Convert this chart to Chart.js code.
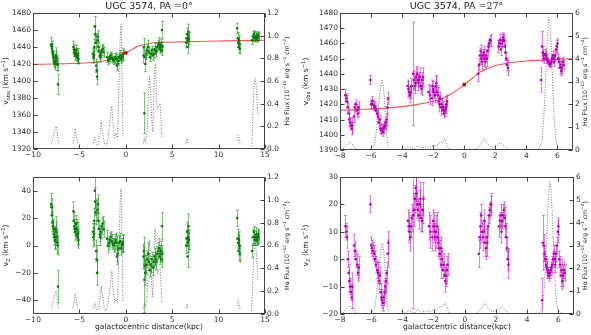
<!DOCTYPE html>
<html>
<head>
<meta charset="utf-8">
<script src="https://cdn.jsdelivr.net/npm/chart.js@4.4.1/dist/chart.umd.min.js"></script>
<style>
  body { margin: 0; background: #fff; width: 591px; height: 335px; position: relative; overflow: hidden; }
  canvas { position: absolute; }
</style>
</head>
<body>
<canvas id="c1" width="295" height="165" style="left:0;top:0"></canvas>
<canvas id="c2" width="296" height="165" style="left:295px;top:0"></canvas>
<canvas id="c3" width="295" height="170" style="left:0;top:165px"></canvas>
<canvas id="c4" width="296" height="170" style="left:295px;top:165px"></canvas>
<script>
// tick labels
const xTicks0 = [-10, -5, 0, 5, 10, 15];
const xTicks27 = [-8, -6, -4, -2, 0, 2, 4, 6];
const vobsTicks0 = [1320, 1340, 1360, 1380, 1400, 1420, 1440, 1460, 1480];
const vobsTicks27 = [1390, 1400, 1410, 1420, 1430, 1440, 1450, 1460, 1470, 1480];
const vzTicks0 = [-40, -20, 0, 20, 40];
const vzTicks27 = [-20, -10, 0, 10, 20, 30];
const fluxTicks0 = [0, 0.2, 0.4, 0.6, 0.8, 1.0, 1.2];
const fluxTicks27 = [0, 1, 2, 3, 4, 5, 6];

// PA = 0 : positions (kpc), observed velocity, vertical velocity, errors
const r0 = [
  -8.05, -8.0, -7.95, -7.9, -7.85, -7.8, -7.75, -7.7, -7.65, -7.6, -7.55, -7.5, -7.45, -7.4, -7.35, -7.3,
  -5.65, -5.6, -5.55, -5.5, -5.45, -5.4, -5.35, -5.3, -5.25, -5.2, -5.15, -5.1,
  -3.55, -3.5, -3.45, -3.4, -3.35, -3.3, -3.25, -3.2, -3.15, -3.1, -3.05, -3.0, -2.95, -2.9, -2.8, -2.75, -2.7, -2.6, -2.5, -2.4,
  -2.0, -1.9, -1.8, -1.7, -1.6, -1.5, -1.4, -1.3, -1.2, -1.1, -1.0, -0.95, -0.9, -0.8, -0.7, -0.6, -0.5, -0.4, -0.35, -0.3,
  1.9, 1.95, 2.0, 2.05, 2.1, 2.2, 2.3, 2.4, 2.5, 2.6, 2.7, 2.8, 2.9, 3.0, 3.1, 3.2, 3.3, 3.4, 3.5, 3.6, 3.65, 3.7, 3.8, 3.85, 3.9, 3.95,
  6.5, 6.55, 6.6, 6.65, 6.7, 6.72, 6.75, 6.8,
  12.0, 12.05, 12.1, 12.15, 12.2, 12.25, 12.3,
  13.6, 13.7, 13.8, 13.85, 13.9, 14.0, 14.05, 14.1, 14.15, 14.2, 14.25, 14.3
];
const vobs0 = [
  1443, 1441, 1438, 1434, 1431, 1428, 1424, 1422, 1420, 1424, 1430, 1428, 1424, 1420, 1419, 1396,
  1440, 1437, 1434, 1432, 1430, 1433, 1436, 1431, 1428, 1427, 1430, 1426,
  1432, 1428, 1430, 1440, 1464, 1455, 1445, 1418, 1412, 1405, 1448, 1452, 1440, 1435, 1430, 1428, 1432, 1436, 1438, 1434,
  1428, 1424, 1426, 1428, 1430, 1427, 1425, 1424, 1426, 1428, 1426, 1418, 1420, 1424, 1428, 1430, 1426, 1428, 1430, 1432,
  1430, 1440, 1362, 1428, 1420, 1432, 1436, 1440, 1434, 1428, 1432, 1436, 1430, 1432, 1438, 1436, 1434, 1440, 1442, 1444, 1438, 1440, 1442, 1436, 1460, 1440,
  1445, 1450, 1455, 1440, 1448, 1452, 1458, 1450,
  1462, 1450, 1445, 1440, 1448, 1444, 1438,
  1448, 1452, 1455, 1452, 1450, 1452, 1453, 1451, 1450, 1452, 1454, 1452
];
const vz0 = [
  30, 28, 22, 17, 14, 12, 8, 6, 4, 6, 12, 10, 6, 2, 0, -30,
  25, 18, 14, 12, 10, 12, 16, 12, 8, 6, 9, 4,
  10, 6, 8, 18, 40, 32, 24, -4, -10, -20, 26, 30, 18, 12, 8, 6, 10, 14, 16, 12,
  5, 0, 2, 4, 6, 3, 1, 0, 2, 4, 2, -8, -6, -2, 2, 3, -2, 0, 1, 2,
  -8, -4, -25, -15, -20, -14, -10, -6, -12, -18, -14, -10, -16, -12, -8, -10, -12, -6, -4, -2, -8, -6, -4, -10, 14, -6,
  0, 5, 10, -8, 2, 6, 14, 4,
  20, 5, 2, -4, 4, 0, -6,
  -4, 6, 10, 6, 4, 6, 8, 5, 4, 6, 8, 6
];
const err0 = [
  8, 6, 6, 7, 5, 6, 5, 6, 7, 8, 9, 7, 6, 8, 7, 12,
  7, 6, 5, 5, 6, 5, 6, 7, 5, 6, 8, 6,
  6, 7, 8, 9, 12, 10, 9, 8, 10, 9, 8, 7, 6, 6, 5, 6, 5, 6, 5, 6,
  6, 5, 5, 5, 4, 5, 4, 5, 6, 5, 5, 6, 6, 5, 5, 6, 5, 5, 6, 6,
  9, 10, 24, 8, 9, 7, 6, 8, 6, 5, 6, 5, 6, 5, 6, 5, 6, 5, 6, 7, 6, 6, 7, 6, 10, 6,
  6, 6, 7, 8, 7, 6, 9, 7,
  6, 7, 6, 7, 6, 7, 6,
  5, 6, 4, 5, 4, 4, 5, 4, 4, 5, 4, 4
];
const fluxR0 = [
  -8.0, -7.8, -7.6, -7.5, -7.4, -7.3, -7.2, null,
  -5.7, -5.55, -5.45, -5.3, -5.15, null,
  -3.5, -3.35, -3.2, -3.0, -2.8, -2.65, -2.5, -2.3, -2.1, -1.9, -1.7, -1.5, -1.35, -1.2, -1.05, -0.9, -0.8, -0.7, -0.6, -0.5, -0.4, -0.3, null,
  1.9, 2.0, 2.1, 2.3, 2.45, 2.55, 2.7, 2.8, 2.9, 3.0, 3.1, 3.2, 3.3, 3.4, 3.55, 3.7, 3.8, 3.9, null,
  6.5, 6.6, 6.7, null,
  12.0, 12.1, 12.2, 12.3, null,
  13.55, 13.65, 13.75, 13.85, 13.95, 14.05, 14.1, 14.2, 14.25
];
const flux0 = [
  0.05, 0.12, 0.18, 0.2, 0.15, 0.08, 0.05, null,
  0.05, 0.12, 0.18, 0.1, 0.05, null,
  0.05, 0.1, 0.05, 0.03, 0.12, 0.25, 0.15, 0.04, 0.03, 0.1, 0.25, 0.38, 0.2, 0.1, 0.14, 0.1, 0.35, 0.7, 1.0, 1.1, 0.6, 0.1, null,
  0.05, 0.1, 0.06, 0.15, 0.5, 0.65, 0.45, 0.25, 0.15, 0.4, 0.72, 0.75, 0.5, 0.35, 0.38, 0.4, 0.25, 0.1, null,
  0.05, 0.09, 0.05, null,
  0.07, 0.12, 0.1, 0.05, null,
  0.0, 0.2, 0.45, 0.6, 0.62, 0.55, 0.5, 0.35, 0.3
];
const modelR0 = [-10, -8, -6, -4, -3, -2, -1, -0.5, 0, 0.5, 1, 1.5, 2, 3, 4, 6, 8, 10, 12, 15];
const model0 = [1419.5, 1420, 1420.5, 1421.5, 1422.5, 1424.5, 1427.5, 1430, 1433, 1436, 1439, 1441.5, 1443, 1445, 1445.5, 1446, 1446.5, 1447, 1447.5, 1448];

// PA = 27
const r27 = [
  -7.65, -7.6, -7.55, -7.5, -7.45, -7.4, -7.35, -7.3, -7.25, -7.2, -7.1, -7.05, -7.0, -6.9, -6.85, -6.8,
  -6.05, -6.0, -5.95, -5.9, -5.8, -5.75, -5.7, -5.6, -5.55, -5.5, -5.45, -5.4, -5.35, -5.3, -5.25, -5.2, -5.15, -5.1, -5.05, -5.0, -4.95, -4.9,
  -3.65, -3.6, -3.55, -3.5, -3.45, -3.4, -3.3, -3.25, -3.2, -3.15, -3.1, -3.05, -3.0, -2.95, -2.9, -2.85, -2.8, -2.75, -2.7, -2.65,
  -2.3, -2.2, -2.1, -2.05, -2.0, -1.95, -1.9, -1.85, -1.8, -1.75, -1.7, -1.65, -1.6, -1.55, -1.5, -1.45, -1.4, -1.35, -1.3, -1.25, -1.2, -1.15, -1.1,
  0.9, 0.95, 1.0, 1.05, 1.1, 1.15, 1.2, 1.25, 1.3, 1.35, 1.4, 1.45, 1.5, 1.55, 1.6, 1.65, 1.7,
  2.2, 2.25, 2.3, 2.35, 2.4, 2.45, 2.5, 2.55, 2.6, 2.65, 2.7, 2.75, 2.8,
  4.95, 5.0, 5.05, 5.1, 5.15, 5.2, 5.25, 5.3, 5.35, 5.4, 5.45, 5.5, 5.55, 5.6, 5.65, 5.7, 5.75, 5.8, 5.85, 5.9, 5.95, 6.0, 6.05, 6.1, 6.15, 6.2, 6.25, 6.3, 6.35, 6.4
];
const vobs27 = [
  1426, 1424, 1422, 1418, 1414, 1410, 1408, 1406, 1404, 1406, 1412, 1418, 1420, 1416, 1414, 1418,
  1436, 1420, 1422, 1420, 1419, 1418, 1416, 1414, 1412, 1408, 1410, 1404, 1403, 1404, 1402, 1404, 1405, 1406, 1408, 1410, 1418, 1424,
  1432, 1430, 1428, 1426, 1428, 1432, 1440, 1436, 1432, 1434, 1438, 1440, 1436, 1434, 1436, 1438, 1432, 1430, 1436, 1438,
  1428, 1426, 1424, 1432, 1430, 1428, 1426, 1432, 1434, 1428, 1426, 1422, 1420, 1424, 1418, 1420, 1416, 1418, 1414, 1416, 1418, 1420, 1422,
  1440, 1446, 1452, 1455, 1450, 1448, 1452, 1454, 1450, 1448, 1452, 1450, 1455, 1458, 1460, 1462, 1462,
  1458, 1460, 1462, 1456, 1460, 1462, 1464, 1462, 1458, 1454, 1450, 1446, 1444,
  1436, 1458, 1454, 1452, 1450, 1453, 1452, 1450, 1449, 1448, 1447, 1446, 1447, 1448, 1450, 1452, 1450, 1448, 1452, 1456, 1458, 1460, 1450, 1448, 1444, 1446, 1442, 1444, 1448, 1446
];
const vz27 = [
  12, 10, 8, 0, -5, -8, -10, -12, -14, -10, 5, 3, 0, -2, -5, -3,
  20, 5, 4, 3, 2, 0, -2, -4, -5, -8, -6, -12, -14, -15, -16, -14, -12, -10, -8, -5, 2, 6,
  14, 12, 10, 8, 12, 15, 16, 18, 22, 26, 24, 20, 18, 16, 20, 22, 15, 14, 18, 22,
  12, 10, 8, 14, 12, 10, 8, 10, 12, 8, 6, 4, 2, 4, -2, 0, -4, -2, -6, -8, -6, -4, -2,
  2, 8, 12, 16, 10, 8, 10, 14, 6, 4, 8, 6, 12, 16, 18, 20, 20,
  12, 14, 16, 10, 14, 16, 18, 15, 12, 8, 4, 0, -2,
  -15, 6, 5, 2, 0, -2, -3, -4, -5, -6, -5, -4, -3, -2, 0, 2, 0, -2, 2, 5, 10, 12, 0, -2, -6, -4, -8, -6, -4, -5
];
const err27 = [
  4, 3, 4, 3, 3, 4, 3, 3, 4, 5, 4, 3, 3, 4, 3, 4,
  3, 3, 3, 3, 3, 3, 3, 3, 4, 3, 3, 3, 3, 3, 3, 3, 4, 3, 4, 4, 5, 4,
  4, 5, 4, 5, 4, 5, 34, 6, 5, 5, 6, 5, 4, 5, 5, 6, 5, 4, 5, 6,
  5, 6, 5, 4, 5, 4, 5, 6, 5, 4, 5, 4, 5, 4, 5, 4, 3, 4, 3, 4, 4, 5, 4,
  5, 4, 5, 4, 4, 5, 4, 4, 5, 4, 4, 5, 4, 3, 3, 3, 4,
  4, 3, 4, 4, 3, 4, 3, 4, 4, 5, 4, 4, 5,
  8, 10, 4, 3, 3, 3, 3, 3, 2, 2, 2, 2, 2, 3, 3, 3, 3, 3, 3, 3, 4, 3, 3, 3, 4, 4, 3, 4, 3, 3
];
const fluxR27 = [
  -7.8, -7.6, -7.4, -7.2, -7.0, -6.8, null,
  -6.2, -6.0, -5.8, -5.7, -5.6, -5.5, -5.4, -5.3, -5.2, -5.1, -5.0, -4.9, null,
  -3.8, -3.6, -3.4, -3.2, -3.0, -2.8, -2.6, -2.4, -2.2, -2.0, -1.8, -1.6, -1.4, -1.25, -1.1, -1.0, null,
  0.6, 0.8, 1.0, 1.2, 1.3, 1.45, 1.6, 1.8, 2.0, 2.2, 2.35, 2.5, 2.7, 2.9, null,
  4.6, 4.8, 5.0, 5.1, 5.2, 5.3, 5.4, 5.45, 5.5, 5.6, 5.7, 5.8, 5.9, 6.0, 6.2, 6.4
];
const flux27 = [
  0.05, 0.2, 0.35, 0.25, 0.05, 0.0, null,
  0.0, 0.05, 0.2, 0.6, 1.2, 2.0, 2.7, 3.1, 2.8, 1.8, 0.6, 0.1, null,
  0.05, 0.15, 0.1, 0.05, 0.2, 0.1, 0.1, 0.15, 0.1, 0.2, 0.2, 0.3, 0.35, 0.5, 0.2, 0.05, null,
  0.0, 0.05, 0.2, 0.4, 0.5, 0.3, 0.2, 0.1, 0.15, 0.25, 0.3, 0.2, 0.1, 0.0, null,
  0.0, 0.05, 0.4, 1.2, 2.5, 4.2, 5.5, 5.8, 5.6, 4.5, 2.8, 1.2, 0.4, 0.15, 0.05, 0.0
];
const modelR27 = [-8, -7, -6, -5, -4, -3, -2, -1.5, -1, -0.5, 0, 0.5, 1, 1.5, 2, 2.5, 3, 4, 5, 6, 7];
const model27 = [1416, 1416.5, 1417, 1417.5, 1418.5, 1420, 1422, 1423.5, 1426, 1429, 1433, 1437, 1441, 1443.5, 1445.5, 1446.5, 1447.5, 1448.5, 1449, 1449.5, 1450];

// kinematic centre
const centerR = [0];
const centerV0 = [1433];
const centerV27 = [1433];

const FONT = 'DejaVu Sans';
const TICK_SIZE = 7.5;
const GREEN = '#0a780a';
const GREEN_ERR = 'rgba(0,140,0,0.5)';
const MAGENTA = '#b000b0';
const MAGENTA_ERR = 'rgba(205,0,205,0.5)';

function pts(xs, ys) {
  return xs.map((x, i) => ({ x: x, y: ys[i] }));
}
function minus(v) {
  return v < 0 ? '\u2212' + Math.abs(v) : String(v);
}

// draws text made of normal / sub / sup / serif pieces, centred on (x, y)
function drawRich(ctx, parts, x, y, rotate, size) {
  const fontFor = (m) => {
    if (m === 'sub' || m === 'sup') return (size * 0.7) + 'px "' + FONT + '"';
    if (m === 'serif') return size + 'px "DejaVu Serif"';
    return size + 'px "' + FONT + '"';
  };
  let w = 0;
  parts.forEach(p => { ctx.font = fontFor(p[1]); w += ctx.measureText(p[0]).width; });
  ctx.save();
  ctx.translate(x, y);
  if (rotate) ctx.rotate(-Math.PI / 2);
  ctx.textBaseline = 'middle';
  ctx.textAlign = 'left';
  let cx = -w / 2;
  parts.forEach(p => {
    ctx.font = fontFor(p[1]);
    let dy = 0;
    if (p[1] === 'sub') dy = size * 0.3;
    if (p[1] === 'sup') dy = -size * 0.35;
    ctx.fillText(p[0], cx, dy);
    cx += ctx.measureText(p[0]).width;
  });
  ctx.restore();
}

const errorBars = {
  id: 'errorBars',
  beforeDatasetDraw(chart, args) {
    const ds = chart.data.datasets[args.index];
    if (!ds.errors) return;
    const ys = args.meta.yScale;
    const a = chart.chartArea;
    const ctx = chart.ctx;
    ctx.save();
    ctx.beginPath();
    ctx.rect(a.left, a.top, a.right - a.left, a.bottom - a.top);
    ctx.clip();
    ctx.strokeStyle = ds.errorColor;
    ctx.lineWidth = 1;
    ctx.beginPath();
    args.meta.data.forEach((p, i) => {
      const v = ds.data[i].y, e = ds.errors[i];
      const y1 = ys.getPixelForValue(v - e), y2 = ys.getPixelForValue(v + e);
      const x = Math.round(p.x) + 0.5;
      ctx.moveTo(x, y1); ctx.lineTo(x, y2);
      ctx.moveTo(x - 1.5, y1); ctx.lineTo(x + 1.5, y1);
      ctx.moveTo(x - 1.5, y2); ctx.lineTo(x + 1.5, y2);
    });
    ctx.stroke();
    ctx.restore();
  }
};

function decor(o) {
  return {
    id: 'decor',
    afterDraw(chart) {
      const ctx = chart.ctx, a = chart.chartArea;
      const L = Math.round(a.left) + 0.5, R = Math.round(a.right) - 0.5;
      const T = Math.round(a.top) + 0.5, B = Math.round(a.bottom) - 0.5;
      ctx.save();
      ctx.strokeStyle = '#444';
      ctx.lineWidth = 1;
      ctx.strokeRect(L, T, R - L, B - T);
      ctx.beginPath();
      chart.scales.x.ticks.forEach(t => {
        const x = Math.round(chart.scales.x.getPixelForValue(t.value)) + 0.5;
        ctx.moveTo(x, B); ctx.lineTo(x, B - 4);
        ctx.moveTo(x, T); ctx.lineTo(x, T + 4);
      });
      chart.scales.y.ticks.forEach(t => {
        const y = Math.round(chart.scales.y.getPixelForValue(t.value)) + 0.5;
        ctx.moveTo(L, y); ctx.lineTo(L + 4, y);
      });
      chart.scales.y2.ticks.forEach(t => {
        const y = Math.round(chart.scales.y2.getPixelForValue(t.value)) + 0.5;
        ctx.moveTo(R, y); ctx.lineTo(R - 4, y);
      });
      ctx.stroke();
      ctx.fillStyle = '#222';
      if (o.title) drawRich(ctx, o.title, (a.left + a.right) / 2, o.titleY, false, 9.5);
      drawRich(ctx, o.yTitle, o.yTitleX, (a.top + a.bottom) / 2, true, 7.5);
      drawRich(ctx, o.fluxTitle, o.fluxTitleX, (a.top + a.bottom) / 2, true, 6.2);
      if (o.xTitle) drawRich(ctx, o.xTitle, (a.left + a.right) / 2, o.xTitleY, false, 7.6);
      ctx.restore();
    }
  };
}

function tickStyle(cb) {
  return { padding: 2, color: '#333', font: { family: FONT, size: TICK_SIZE }, maxRotation: 0, autoSkip: false, callback: cb };
}

function makePanel(o) {
  const datasets = [
    { data: pts(o.r, o.v), errors: o.err, errorColor: o.errColor, pointRadius: 1.3,
      pointBackgroundColor: o.color, pointBorderWidth: 0, order: 1 },
    { data: pts(o.fluxR, o.flux), yAxisID: 'y2', showLine: true, borderColor: '#666',
      borderWidth: 0.9, borderDash: [1, 1.6], pointRadius: 0, order: 3 }
  ];
  if (o.modelR) {
    datasets.push({ data: pts(o.modelR, o.model), showLine: true, borderColor: 'rgba(255,40,40,0.8)',
      borderWidth: 1.1, pointRadius: 0, cubicInterpolationMode: 'monotone', order: 2 });
    datasets.push({ data: pts(centerR, o.center), pointRadius: 2.4, pointStyle: 'rect',
      pointBackgroundColor: '#d00000', pointBorderWidth: 0, order: 0 });
  }
  new Chart(document.getElementById(o.id), {
    type: 'scatter',
    data: { datasets: datasets },
    options: {
      responsive: false,
      animation: false,
      events: [],
      layout: { padding: { top: o.top, left: 0, right: 0, bottom: 0 } },
      plugins: { legend: { display: false }, tooltip: { enabled: false } },
      scales: {
        x: {
          type: 'linear', min: o.xMin, max: o.xMax,
          afterBuildTicks: s => { s.ticks = o.xTicks.map(v => ({ value: v })); },
          afterFit: s => { s.height = o.bottomH; },
          grid: { display: false, drawTicks: false }, border: { display: false },
          ticks: tickStyle(v => minus(v))
        },
        y: {
          type: 'linear', position: 'left', min: o.yMin, max: o.yMax,
          afterBuildTicks: s => { s.ticks = o.yTicks.map(v => ({ value: v })); },
          afterFit: s => { s.width = o.leftW; },
          grid: { display: false, drawTicks: false }, border: { display: false },
          ticks: tickStyle(v => minus(v))
        },
        y2: {
          type: 'linear', position: 'right', min: 0, max: o.fluxMax,
          afterBuildTicks: s => { s.ticks = o.fluxTicks.map(v => ({ value: v })); },
          afterFit: s => { s.width = o.rightW; },
          grid: { display: false, drawTicks: false }, border: { display: false },
          ticks: tickStyle(o.fluxFmt)
        }
      }
    },
    plugins: [errorBars, decor(o)]
  });
}

const vobsTitle = [['v', ''], ['obs', 'sub'], [' (km s', ''], ['\u22121', 'sup'], [')', '']];
const vzTitle = [['v', ''], ['Z', 'sub'], [' (km s', ''], ['\u22121', 'sup'], [')', '']];
const fluxTitle = [['H\u03b1 Flux (10', ''], ['\u221215', 'sup'], [' erg s', ''], ['\u22121', 'sup'], [' cm', ''], ['\u22122', 'sup'], [')', '']];
const xTitle = [['galactocentric distance(kpc)', '']];
const fmt1 = v => v.toFixed(1);
const fmt0 = v => String(v);

makePanel({ id: 'c1', r: r0, v: vobs0, err: err0, color: GREEN, errColor: GREEN_ERR,
  fluxR: fluxR0, flux: flux0, modelR: modelR0, model: model0, center: centerV0,
  xMin: -10, xMax: 15, xTicks: xTicks0, yMin: 1320, yMax: 1480, yTicks: vobsTicks0,
  fluxMax: 1.2, fluxTicks: fluxTicks0, fluxFmt: fmt1,
  top: 13, leftW: 33, rightW: 30, bottomH: 16,
  title: [['UGC 3574, PA ', ''], ['=0\u00b0', 'serif']], titleY: 7,
  yTitle: vobsTitle, yTitleX: 6.5, fluxTitle: fluxTitle, fluxTitleX: 287 });

makePanel({ id: 'c2', r: r27, v: vobs27, err: err27, color: MAGENTA, errColor: MAGENTA_ERR,
  fluxR: fluxR27, flux: flux27, modelR: modelR27, model: model27, center: centerV27,
  xMin: -8, xMax: 7, xTicks: xTicks27, yMin: 1390, yMax: 1480, yTicks: vobsTicks27,
  fluxMax: 6, fluxTicks: fluxTicks27, fluxFmt: fmt0,
  top: 13, leftW: 45, rightW: 18, bottomH: 15,
  title: [['UGC 3574, PA ', ''], ['=27\u00b0', 'serif']], titleY: 7,
  yTitle: vobsTitle, yTitleX: 11, fluxTitle: fluxTitle, fluxTitleX: 290.5 });

makePanel({ id: 'c3', r: r0, v: vz0, err: err0, color: GREEN, errColor: GREEN_ERR,
  fluxR: fluxR0, flux: flux0,
  xMin: -10, xMax: 15, xTicks: xTicks0, yMin: -50, yMax: 50, yTicks: vzTicks0,
  fluxMax: 1.2, fluxTicks: fluxTicks0, fluxFmt: fmt1,
  top: 12, leftW: 33, rightW: 30, bottomH: 21,
  yTitle: vzTitle, yTitleX: 6.5, fluxTitle: fluxTitle, fluxTitleX: 287,
  xTitle: xTitle, xTitleY: 162.5 });

makePanel({ id: 'c4', r: r27, v: vz27, err: err27, color: MAGENTA, errColor: MAGENTA_ERR,
  fluxR: fluxR27, flux: flux27,
  xMin: -8, xMax: 7, xTicks: xTicks27, yMin: -20, yMax: 30, yTicks: vzTicks27,
  fluxMax: 6, fluxTicks: fluxTicks27, fluxFmt: fmt0,
  top: 12, leftW: 45, rightW: 17, bottomH: 21,
  yTitle: vzTitle, yTitleX: 11, fluxTitle: fluxTitle, fluxTitleX: 290.5,
  xTitle: xTitle, xTitleY: 162.5 });
</script>
</body>
</html>
